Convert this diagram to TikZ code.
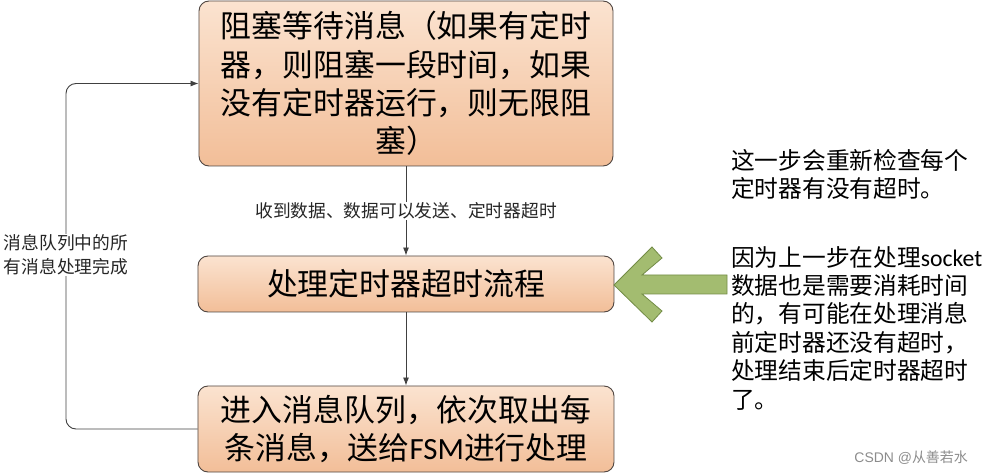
\documentclass[tikz,border=0pt]{standalone}
\usepackage{fontspec}
\setmainfont{Carlito}
\newfontfamily\cjk{Noto Sans CJK SC}
\newcommand{\en}[1]{{\rmfamily #1}}
\usetikzlibrary{arrows.meta,calc}
\definecolor{boxtop}{RGB}{251,227,208}
\definecolor{boxbot}{RGB}{242,190,152}
\definecolor{boxline}{RGB}{80,70,65}
\definecolor{conncol}{RGB}{64,64,64}
\definecolor{greenfill}{RGB}{163,188,112}
\definecolor{greenline}{RGB}{115,140,70}
\tikzset{
  stepbox/.style={draw=boxline, line width=0.9bp, rounded corners=10bp,
    top color=boxtop, bottom color=boxbot, align=center, inner sep=0pt,
    font=\cjk\fontsize{31}{38.5}\selectfont},
  conn/.style={draw=conncol, line width=0.9bp, -{Latex[length=8bp,width=6bp]}},
  lbl/.style={fill=white, inner sep=1bp, align=left, text=black!85,
    font=\cjk\fontsize{17.8}{24}\selectfont},
}
\begin{document}
\begin{tikzpicture}[x=1bp,y=-1bp]
\useasboundingbox (0,0) rectangle (985,476);
\node[stepbox, minimum width=414bp, minimum height=165bp] (b1) at (406,83.5)
  {阻塞等待消息（如果有定时\\器，则阻塞一段时间，如果\\没有定时器运行，则无限阻\\塞）};
\node[stepbox, minimum width=416bp, minimum height=56bp] (b2) at (406,284)
  {处理定时器超时流程};
\node[stepbox, minimum width=416bp, minimum height=86bp] (b3) at (406,429)
  {进入消息队列，依次取出每\\条消息，送给\en{FSM}进行处理};
\draw[conn] (b1.south) -- node[lbl, align=center] (l1) {收到数据、数据可以发送、定时器超时} (b2.north);
\draw[conn] (b2.south) -- (b3.north);
\coordinate (lx) at (66,0);
\draw[conn, rounded corners=10bp] (b3.west) -- (b3.west -| lx) -- (b1.west -| lx) -- (b1.west);
\node[lbl] (l2) at (66,255) {消息队列中的所\\有消息处理完成};
% green arrow
\draw[draw=greenline, fill=greenfill, line width=0.8bp, line join=miter]
  (614,285) -- (652,247) -- (662,258) -- (642,275) -- (727,275) -- (727,294)
  -- (642,294) -- (662,311) -- (652,322) -- cycle;
\node[anchor=north west, align=left, inner sep=0pt, font=\cjk\fontsize{23.8}{28.5}\selectfont] (note) at (731,149)
  {这一步会重新检查每个\\定时器有没有超时。\\[40bp]因为上一步在处理\en{socket}\\数据也是需要消耗时间\\的，有可能在处理消息\\前定时器还没有超时，\\处理结束后定时器超时\\了。};
\node[anchor=east, inner sep=0pt, text=black!45, font=\fontsize{14}{16}\selectfont] (wm) at (968,458)
  {\sffamily\fontspec{Liberation Sans}CSDN @\cjk{}从善若水};
\end{tikzpicture}
\end{document}
